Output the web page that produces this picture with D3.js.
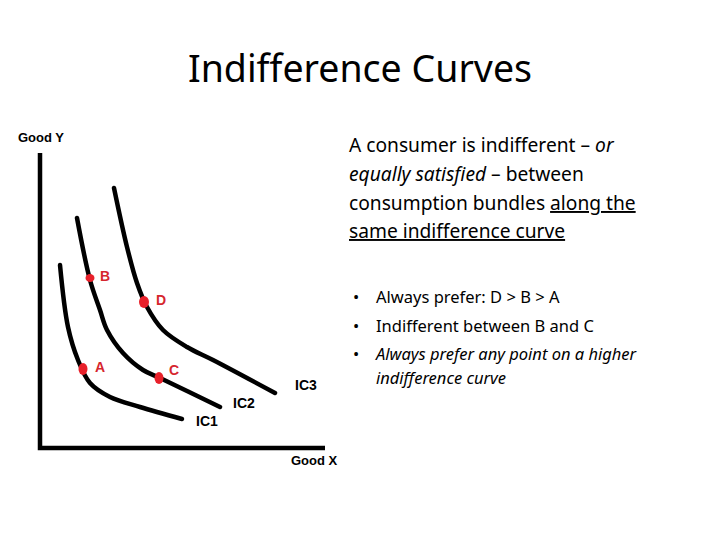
<!DOCTYPE html>
<html><head><meta charset="utf-8">
<script src="https://cdn.jsdelivr.net/npm/d3@7"></script>
<style>body{margin:0;background:#fff}</style>
</head><body>
<svg id="chart" width="720" height="540"></svg>
<script>
var ic1 = [[20,183],[28,121],[38,88],[50,65],[70,51],[100,41],[142,29]];
var ic2 = [[37,230],[50,168],[60,138],[67,118],[83,95],[103,78],[120,70],[180,41]];
var ic3 = [[74,260],[87,201],[97,165],[107,141],[123,118],[147,101],[173,88],[235,55]];
var curveNames = ['IC1','IC2','IC3'];
var curveLabels = [[156,22],[193,40],[255,58]];
var points = [{n:'A',x:43,y:79},{n:'B',x:50,y:170},{n:'C',x:119,y:70},{n:'D',x:104,y:146}];

var svg = d3.select('#chart'), F = 'Liberation Sans, Arial, sans-serif', T = '"Noto Sans", sans-serif';
var x = d3.scaleLinear().domain([0,285]).range([40,325]),
    y = d3.scaleLinear().domain([0,295]).range([448,153]);

svg.append('text').attr('x',360).attr('y',82).attr('text-anchor','middle')
  .attr('font-family',T).attr('font-size',37.5).text('Indifference Curves');

// axes
svg.append('path').attr('d','M'+x(0)+','+y(295)+'V'+y(0)+'H'+x(285))
  .attr('fill','none').attr('stroke','#000').attr('stroke-width',4.5);
svg.append('text').attr('x',18).attr('y',142).attr('font-family',F).attr('font-weight','bold')
  .attr('font-size',13).text('Good Y');
svg.append('text').attr('x',291).attr('y',465).attr('font-family',F).attr('font-weight','bold')
  .attr('font-size',13).text('Good X');

var line = d3.line().x(function(d){return x(d[0]);}).y(function(d){return y(d[1]);}).curve(d3.curveCatmullRom);
[ic1,ic2,ic3].forEach(function(c,i){
  svg.append('path').attr('d',line(c)).attr('fill','none').attr('stroke','#000')
    .attr('stroke-width',4.5).attr('stroke-linecap','round');
  svg.append('text').attr('x',x(curveLabels[i][0])).attr('y',y(curveLabels[i][1]))
    .attr('font-family',F).attr('font-weight','bold').attr('font-size',14).text(curveNames[i]);
});
points.forEach(function(p){
  svg.append('ellipse').attr('cx',x(p.x)).attr('cy',y(p.y)).attr('rx',p.n=='D'?5:4.5).attr('ry',p.n=='B'?4:6).attr('fill','#e8202a');
  svg.append('text').attr('x',x(p.x)+(p.n=='B'||p.n=='C'?10:12)).attr('y',y(p.y)+(p.n=='C'?-3:3))
    .attr('font-family',F).attr('font-weight','bold').attr('font-size',14).attr('fill','#d6262e').text(p.n);
});

// text
var para = svg.append('g').attr('font-family',T).attr('font-size',19.2);
var t1 = para.append('text').attr('x',349).attr('y',152);
t1.append('tspan').text('A consumer is indifferent – ');
t1.append('tspan').attr('font-style','italic').text('or');
para.append('text').attr('x',349).attr('y',181).attr('font-style','italic').text('equally satisfied');
para.select('text:last-child').append('tspan').attr('font-style','normal').text(' – between');
para.append('text').attr('x',349).attr('y',210).text('consumption bundles ')
  .append('tspan').attr('text-decoration','underline').text('along the');
para.append('text').attr('x',349).attr('y',238).attr('text-decoration','underline').text('same indifference curve');

var bullets = [['Always prefer: D > B > A',false,303],['Indifferent between B and C',false,332],
  ['Always prefer any point on a higher',true,360],['indifference curve',true,384]];
var bg = svg.append('g').attr('font-family',T).attr('font-size',16.5);
bullets.forEach(function(b,i){
  if(i<3) bg.append('text').attr('x',353).attr('y',b[2]).text('•');
  bg.append('text').attr('x',376).attr('y',b[2]).attr('font-style',b[1]?'italic':'normal').text(b[0]);
});
</script>
</body></html>
